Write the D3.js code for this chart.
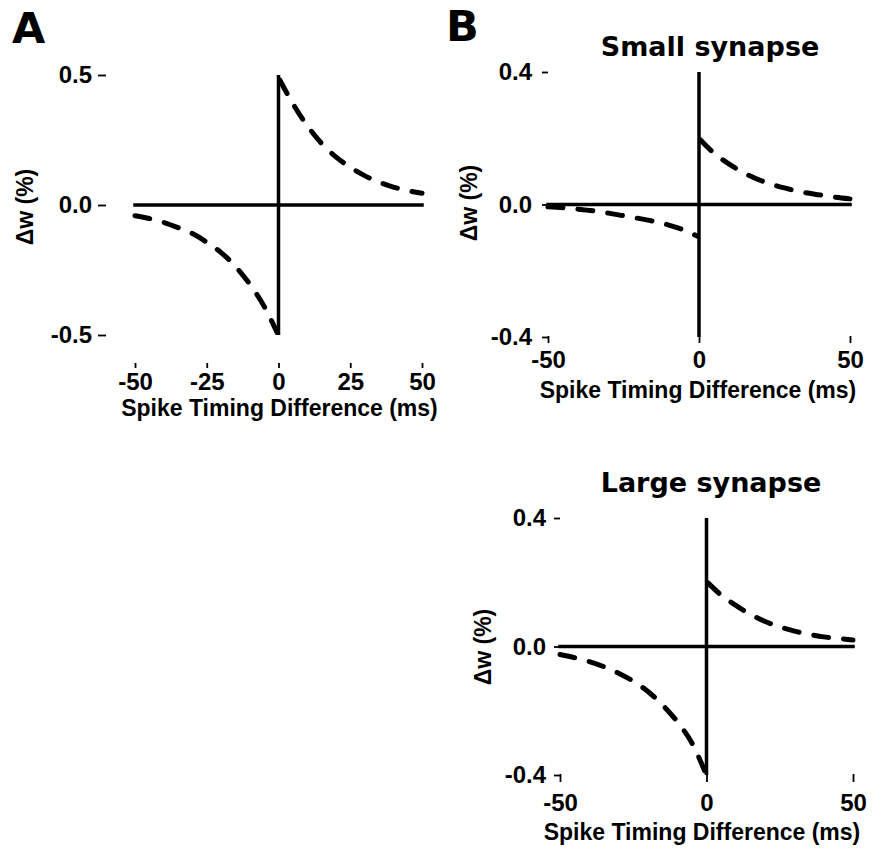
<!DOCTYPE html>
<html>
<head>
<meta charset="utf-8">
<script src="https://cdn.jsdelivr.net/npm/d3@7"></script>
<style>
  body { margin: 0; background: #fff; }
  svg { display: block; }
  .tick text { font-family: "Liberation Sans", Arial, sans-serif; font-weight: bold; font-size: 24px; fill: #000; }
  .axis-title { font-family: "Liberation Sans", Arial, sans-serif; font-weight: bold; font-size: 23px; fill: #000; }
  .panel-title, .letter { font-family: "DejaVu Sans", sans-serif; font-weight: bold; fill: #000; }
</style>
</head>
<body>
<svg id="chart" width="888" height="849"></svg>
<script>
// spike timing difference (ms)
const tPre  = [-50, -45, -40, -35, -30, -25, -20, -15, -10, -5, -0.5];
const tPost = [0.5, 5, 10, 15, 20, 25, 30, 35, 40, 45, 50];

// weight change (%) - panel A
const dwA_pre  = [-0.041, -0.052, -0.067, -0.087, -0.11, -0.143, -0.183, -0.236, -0.305, -0.39, -0.49];
const dwA_post = [0.48, 0.39, 0.305, 0.237, 0.185, 0.145, 0.113, 0.088, 0.069, 0.055, 0.045];

// panel B, small synapse
const dwSmall_pre  = [-0.007, -0.01, -0.014, -0.019, -0.026, -0.034, -0.042, -0.051, -0.062, -0.077, -0.096];
const dwSmall_post = [0.195, 0.155, 0.122, 0.095, 0.074, 0.058, 0.046, 0.036, 0.029, 0.022, 0.017];

// panel B, large synapse
const dwLarge_pre  = [-0.025, -0.035, -0.047, -0.063, -0.083, -0.108, -0.14, -0.182, -0.234, -0.30, -0.39];
const dwLarge_post = [0.198, 0.16, 0.128, 0.10, 0.078, 0.061, 0.048, 0.038, 0.03, 0.025, 0.02];

const xDomain = [-50, 50];
const xTicksA = [-50, -25, 0, 25, 50];
const xTicksB = [-50, 0, 50];
const yTicksA = [-0.5, 0.0, 0.5];
const yTicksB = [-0.4, 0.0, 0.4];

const svg = d3.select("#chart");

const panels = [
    {
        pre: dwA_pre, post: dwA_post, xTicks: xTicksA, yTicks: yTicksA, yDomain: [-0.5, 0.5],
        xr: [135, 422], yr: [335, 75],
        yAxisX: 106, yTickLen: 8, yPad: 6,
        xAxisY: 363, xTickLen: 5, xPad: 5,
        xTitle: [279.5, 416], yTitle: [25, 207],
        letter: ["A", 12, 43]
    },
    {
        pre: dwSmall_pre, post: dwSmall_post, xTicks: xTicksB, yTicks: yTicksB, yDomain: [-0.4, 0.4],
        xr: [548, 850], yr: [337, 72],
        yAxisX: 548, yTickLen: 6, yPad: 10,
        xAxisY: 336, xTickLen: 7, xPad: 8,
        xTitle: [698, 398], yTitle: [469, 203],
        letter: ["B", 446, 41],
        title: ["Small synapse", 710, 56]
    },
    {
        pre: dwLarge_pre, post: dwLarge_post, xTicks: xTicksB, yTicks: yTicksB, yDomain: [-0.4, 0.4],
        xr: [560, 853], yr: [775, 518],
        yAxisX: 560, yTickLen: 6, yPad: 8,
        xAxisY: 774, xTickLen: 8, xPad: 12,
        xTitle: [702, 840], yTitle: [483, 647],
        title: ["Large synapse", 711, 492]
    }
];

function drawPanel(p) {
    const x = d3.scaleLinear().domain(xDomain).range(p.xr);
    const y = d3.scaleLinear().domain(p.yDomain).range(p.yr);
    const g = svg.append("g");

    // axes (no domain line, R style)
    const yAxis = d3.axisLeft(y)
        .tickValues(p.yTicks)
        .tickSize(p.yTickLen)
        .tickPadding(p.yPad)
        .tickFormat(d => d.toFixed(1));
    const xAxis = d3.axisBottom(x)
        .tickValues(p.xTicks)
        .tickSize(p.xTickLen)
        .tickPadding(p.xPad)
        .tickFormat(d => String(d));

    g.append("g")
        .attr("transform", `translate(${p.yAxisX},0)`)
        .call(yAxis)
        .call(a => a.select(".domain").remove())
        .call(a => a.selectAll("line").attr("stroke", "#000").attr("stroke-width", 1.8));

    g.append("g")
        .attr("transform", `translate(0,${p.xAxisY})`)
        .call(xAxis)
        .call(a => a.select(".domain").remove())
        .call(a => a.selectAll("line").attr("stroke", "#000").attr("stroke-width", 1.8));

    // solid zero lines
    g.append("line")
        .attr("x1", x(xDomain[0])).attr("x2", x(xDomain[1]))
        .attr("y1", y(0)).attr("y2", y(0))
        .attr("stroke", "#000").attr("stroke-width", 3.5)
        .attr("stroke-linecap", "square");
    g.append("line")
        .attr("x1", x(0)).attr("x2", x(0))
        .attr("y1", y(p.yDomain[1])).attr("y2", y(p.yDomain[0]))
        .attr("stroke", "#000").attr("stroke-width", 3.5);

    // dashed STDP curves
    const line = d3.line()
        .x(d => x(d[0]))
        .y(d => y(d[1]))
        .curve(d3.curveMonotoneX);

    [d3.zip(tPre, p.pre), d3.zip(tPost, p.post)].forEach(pts => {
        g.append("path")
            .attr("d", line(pts))
            .attr("fill", "none")
            .attr("stroke", "#000")
            .attr("stroke-width", 5)
            .attr("stroke-dasharray", "15,15")
            .attr("stroke-linecap", "round");
    });

    // axis titles
    g.append("text")
        .attr("class", "axis-title")
        .attr("x", p.xTitle[0]).attr("y", p.xTitle[1])
        .attr("text-anchor", "middle")
        .text("Spike Timing Difference (ms)");
    g.append("text")
        .attr("class", "axis-title")
        .attr("transform", `translate(${p.yTitle[0]},${p.yTitle[1]}) rotate(-90)`)
        .attr("text-anchor", "middle")
        .attr("dy", "0.35em")
        .text("Δw (%)");

    if (p.title) {
        g.append("text")
            .attr("class", "panel-title")
            .attr("x", p.title[1]).attr("y", p.title[2])
            .attr("text-anchor", "middle")
            .style("font-size", "27px")
            .text(p.title[0]);
    }
    if (p.letter) {
        svg.append("text")
            .attr("class", "letter")
            .attr("x", p.letter[1]).attr("y", p.letter[2])
            .style("font-size", "43px")
            .text(p.letter[0]);
    }
}

panels.forEach(drawPanel);
</script>
</body>
</html>
